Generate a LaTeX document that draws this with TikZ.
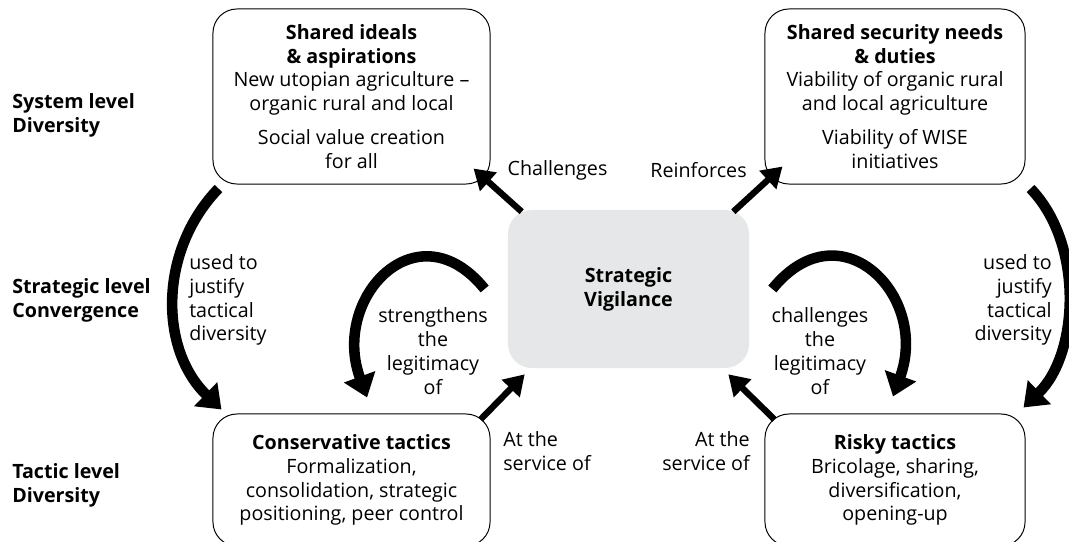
\documentclass[tikz,border=0pt]{standalone}
\usepackage{fontspec}
\setmainfont{Open Sans}
\usetikzlibrary{arrows.meta}
\definecolor{vigilgray}{RGB}{230,231,232}

\begin{document}
\begin{tikzpicture}[x=0.025cm,y=0.025cm,
  every node/.style={font=\fontsize{14}{17}\selectfont},
  box/.style={draw,line width=0.7pt,rounded corners=0.6cm,align=center,inner sep=0pt},
  level/.style={anchor=west,align=left,inner sep=0pt,font=\fontsize{14}{17}\selectfont\bfseries},
  lbl/.style={inner sep=0pt},
  serve/.style={line width=4.5pt,-{Triangle[length=0.5cm,width=0.6cm]}},
  sweep/.style={line width=7.5pt,-{Triangle[length=0.55cm,width=0.8cm]}}]
\useasboundingbox (0,0) rectangle (1069,541);

\node[level] (syslvl) at (12,426) {System level\\Diversity};
\node[level] (stratlvl) at (12,241) {Strategic level\\Convergence};
\node[level] (taclvl) at (12,56) {Tactic level\\Diversity};

\node[box,minimum width=6.925cm,minimum height=4.375cm] (ideals) at (351.5,444.5)
  {\textbf{Shared ideals}\\\textbf{\& aspirations}\\New utopian agriculture --\\organic rural and local\\[0.25cm]Social value creation\\for all};
\node[box,minimum width=6.5cm,minimum height=4.375cm] (security) at (895,444.5)
  {\textbf{Shared security needs}\\\textbf{\& duties}\\Viability of organic rural\\and local agriculture\\[0.25cm]Viability of WISE\\initiatives};
\node[box,minimum width=6.925cm,minimum height=3.3cm] (cons) at (351.5,61)
  {\textbf{Conservative tactics}\\Formalization,\\consolidation, strategic\\positioning, peer control};
\node[box,minimum width=6.5cm,minimum height=3.3cm] (risky) at (895,61)
  {\textbf{Risky tactics}\\Bricolage, sharing,\\diversification,\\opening-up};
\node[fill=vigilgray,rounded corners=0.6cm,minimum width=6.025cm,minimum height=3.95cm,align=center] (vigil) at (628.5,252)
  {\textbf{Strategic}\\\textbf{Vigilance}};

\node[lbl] (chal) at (557.5,371) {Challenges};
\node[lbl] (reinf) at (698.5,371) {Reinforces};
\node[lbl,anchor=west,align=left] (usedl) at (189,241) {used to\\justify\\tactical\\diversity};
\node[lbl,anchor=east,align=right] (usedr) at (1052,241) {used to\\justify\\tactical\\diversity};
\node[lbl,align=center] (streng) at (433,190) {strengthens\\the\\legitimacy\\of};
\node[lbl,align=center] (chlg) at (820,190) {challenges\\the\\legitimacy\\of};
\node[lbl,anchor=west,align=left] (servl) at (503,89.5) {At the\\service of};
\node[lbl,anchor=east,align=right] (servr) at (750,89.5) {At the\\service of};

\draw[serve] ([xshift=0.35cm,yshift=-0.05cm]vigil.north west) -- ([xshift=-0.425cm,yshift=0.4cm]ideals.south east);
\draw[serve] ([xshift=-0.4cm,yshift=-0.05cm]vigil.north east) -- ([xshift=0.45cm,yshift=0.45cm]security.south west);
\draw[serve] ([xshift=-0.25cm,yshift=-0.15cm]cons.north east) -- ([xshift=0.425cm,yshift=-0.15cm]vigil.south west);
\draw[serve] ([xshift=0.25cm,yshift=-0.15cm]risky.north west) -- ([xshift=-0.525cm,yshift=-0.15cm]vigil.south east);

\draw[sweep] ([xshift=0.15cm,yshift=-0.1cm]ideals.south west) to[out=226,in=136,looseness=1.0] ([xshift=0.225cm,yshift=0.1cm]cons.north west);
\draw[sweep] ([xshift=0.125cm,yshift=-0.1cm]security.south east) to[out=314,in=44,looseness=0.9] ([xshift=-0.05cm,yshift=0.15cm]risky.north east);
\draw[sweep] ([xshift=-0.575cm]vigil.west) to[out=129,in=110,looseness=1.7] ([xshift=0.39cm,yshift=0.4cm]cons.north);
\draw[sweep] ([xshift=0.575cm]vigil.east) to[out=51,in=70,looseness=1.7] ([xshift=-0.05cm,yshift=0.425cm]risky.north);
\end{tikzpicture}
\end{document}
